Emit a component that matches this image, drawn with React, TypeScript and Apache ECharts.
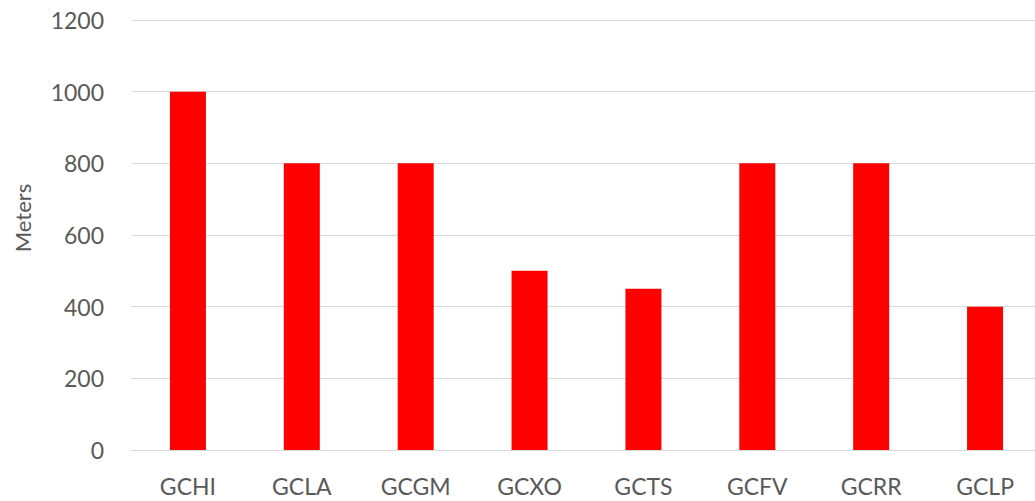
import React, { useEffect, useRef } from "react";
import * as echarts from "echarts";

const categories = ["GCHI", "GCLA", "GCGM", "GCXO", "GCTS", "GCFV", "GCRR", "GCLP"];
const values = [1000, 800, 800, 500, 450, 800, 800, 400];
const yTicks = { min: 0, max: 1200, interval: 200 };
const yTitle = "Meters";

export default function App() {
  const ref = useRef<HTMLDivElement>(null);
  useEffect(() => {
    if (!ref.current) return;
    const chart = echarts.init(ref.current, null, { renderer: "svg" });
    chart.setOption({
      animation: false,
      textStyle: { fontFamily: "Lato" },
      grid: {
        left: 131,
        width: 911,
        top: 20,
        bottom: 51,
        containLabel: false,
        outerBoundsMode: "none",
      },
      xAxis: {
        type: "category",
        data: categories,
        axisLine: { show: true, lineStyle: { color: "#d9d9d9", width: 1 } },
        axisTick: { show: false },
        axisLabel: { color: "#595959", fontSize: 23, fontFamily: "Lato", margin: 24 },
      },
      yAxis: {
        type: "value",
        min: yTicks.min,
        max: yTicks.max,
        interval: yTicks.interval,
        axisLine: { show: false },
        axisTick: { show: false },
        splitLine: { lineStyle: { color: "#d9d9d9", width: 1 } },
        axisLabel: {
          color: "#595959",
          fontSize: 23,
          fontFamily: "Lato",
          margin: 27,
          formatter: (v: number) => String(v),
        },
      },
      graphic: [
        {
          type: "text",
          x: 22,
          y: 218,
          rotation: Math.PI / 2,
          style: {
            text: yTitle,
            fill: "#595959",
            fontSize: 22,
            fontFamily: "Lato",
            align: "center",
            verticalAlign: "middle",
          },
        },
      ],
      series: [
        {
          type: "bar",
          data: values,
          barWidth: 36,
          itemStyle: { color: "#ff0000" },
        },
      ],
    });
    return () => chart.dispose();
  }, []);
  return (
    <div
      ref={ref}
      style={{ position: "fixed", left: 0, top: 0, width: 1035, height: 501, background: "#fff" }}
    />
  );
}
